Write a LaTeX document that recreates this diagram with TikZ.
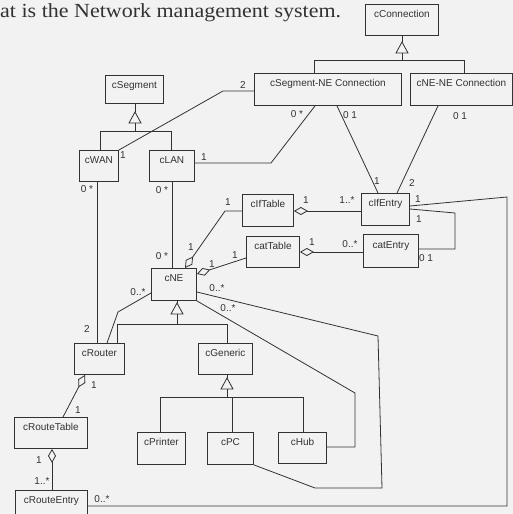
\documentclass[tikz,border=0pt]{standalone}
\usepackage{fontspec}
\setmainfont{Liberation Serif}
\newfontfamily\arialf{Liberation Sans}
\usetikzlibrary{arrows.meta}
\definecolor{bgc}{RGB}{242,242,242}
\definecolor{ink}{RGB}{50,50,50}
\newcommand\gentri[2]{\draw[conn, fill=bgc] (#1,#2) -- ++(-6,11) -- ++(12,0) -- cycle;}
\begin{document}
\begin{tikzpicture}[x=1pt,y=-1pt,
  cls/.style={draw=ink, line width=0.9pt, fill=bgc, rectangle, anchor=north west,
    inner xsep=0pt, inner ysep=0pt, text height=13pt, text depth=18pt,
    font=\arialf\fontsize{10}{12}\selectfont, text=ink},
  conn/.style={draw=ink, line width=0.8pt},
  mult/.style={font=\arialf\fontsize{10}{12}\selectfont, text=ink, inner sep=0pt},
  agg/.style={conn, {Diamond[fill=bgc, length=14pt, width=8pt]}-},
]
\useasboundingbox (0,0) rectangle (513,514);
\fill[bgc] (0,0) rectangle (513,514);
\clip (0,0) rectangle (513,514);

% title
\node[anchor=base west, inner sep=0pt, text=ink, font=\fontsize{20}{24}\selectfont] (title) at (0,17) {\scalebox{1.1}[1]{at is the Network management system.}};

% classes
\node[cls, minimum width=73pt, minimum height=31pt] (cConnection) at (365,4) {cConnection};
\node[cls, minimum width=147pt, minimum height=32pt] (cSegNE) at (254,73) {cSegment-NE Connection};
\node[cls, minimum width=102pt, minimum height=32pt] (cNENE) at (410,73) {cNE-NE Connection};
\node[cls, minimum width=58pt, minimum height=28pt, text depth=15pt] (cSegment) at (105,75) {cSegment};
\node[cls, minimum width=39pt, minimum height=31pt] (cWAN) at (79,150) {cWAN};
\node[cls, minimum width=45pt, minimum height=31pt] (cLAN) at (149,150) {cLAN};
\node[cls, minimum width=51pt, minimum height=32pt] (cIfTable) at (242,194) {cIfTable};
\node[cls, minimum width=48pt, minimum height=32pt] (cIfEntry) at (361,193) {cIfEntry};
\node[cls, minimum width=53pt, minimum height=31pt] (catTable) at (246,236) {catTable};
\node[cls, minimum width=55pt, minimum height=33pt] (catEntry) at (363,234) {catEntry};
\node[cls, minimum width=45pt, minimum height=32pt] (cNE) at (151,268) {cNE};
\node[cls, minimum width=50pt, minimum height=31pt] (cRouter) at (74,343) {cRouter};
\node[cls, minimum width=54pt, minimum height=31pt] (cGeneric) at (198,343) {cGeneric};
\node[cls, minimum width=48pt, minimum height=32pt] (cPrinter) at (137,432) {cPrinter};
\node[cls, minimum width=46pt, minimum height=32pt] (cPC) at (207,432) {cPC};
\node[cls, minimum width=48pt, minimum height=31pt] (cHub) at (278,432) {cHub};
\node[cls, minimum width=73pt, minimum height=31pt] (cRouteTable) at (14,417) {cRouteTable};
\node[cls, minimum width=72pt, minimum height=31pt] (cRouteEntry) at (15,490) {cRouteEntry};

% generalisations
\draw[conn] (cConnection.south -| 402,0) -- (402,42);
\gentri{402}{42}
\draw[conn] (402,53) -- (402,60);
\draw[conn] (cSegNE.north -| 314,0) -- (314,60) -- (464,60) -- (cNENE.north -| 464,0);

\draw[conn] (cSegment.south -| 135,0) -- (135,112);
\gentri{135}{112}
\draw[conn] (135,123) -- (135,131);
\draw[conn] (cWAN.north -| 100,0) -- (100,131) -- (171,131) -- (cLAN.north -| 171,0);

\draw[conn] (cNE.south -| 177,0) -- (177,303);
\gentri{177}{303}
\draw[conn] (177,314) -- (177,324);
\draw[conn] (cRouter.north -| 117,0) -- (117,324) -- (227,324) -- (cGeneric.north -| 227,0);

\draw[conn] (cGeneric.south -| 227,0) -- (227,378);
\gentri{227}{378}
\draw[conn] (227,389) -- (227,397);
\draw[conn] (cPrinter.north -| 160,0) -- (160,397) -- (303,397) -- (cHub.north -| 303,0);
\draw[conn] (232,397) -- (cPC.north -| 232,0);

% associations
\draw[conn] (cWAN.north east) -- (223,91) -- (cSegNE.west |- 0,91);
\node[mult] (m1) at (123,155) {1};
\node[mult] (m2) at (243,85) {2};

\draw[conn] (cLAN.east |- 0,163) -- (271,163) -- (cSegNE.south -| 315,0);
\node[mult] (m3) at (204,157) {1};
\node[mult] (m4) at (297,114) {0 *};

\draw[conn] (cSegNE.south -| 337,0) -- (cIfEntry.north -| 378,0);
\node[mult] (m5) at (350,115) {0 1};
\node[mult] (m6) at (377,181) {1};

\draw[conn] (cNENE.south -| 438,0) -- (cIfEntry.north -| 397,0);
\node[mult] (m7) at (460,116) {0 1};
\node[mult] (m8) at (412,183) {2};

\draw[conn] (cWAN.south -| 97,0) -- (cRouter.north -| 97,0);
\node[mult] (m9) at (87,189) {0 *};
\node[mult] (m10) at (87,329) {2};

\draw[conn] (cLAN.south -| 172,0) -- (cNE.north -| 172,0);
\node[mult] (m11) at (162,190) {0 *};
\node[mult] (m12) at (162,256) {0 *};

\draw[agg] (cNE.north -| 185,0) -- (225,211) -- (cIfTable.west |- 0,211);
\node[mult] (m13) at (191,247) {1};
\node[mult] (m14) at (228,202) {1};

\draw[agg] (cNE.east |- 0,274) -- (catTable.west |- 0,258);
\node[mult] (m15) at (212,264) {1};
\node[mult] (m16) at (235,255) {1};

\draw[agg] (cIfTable.east |- 0,211) -- (cIfEntry.west |- 0,211);
\node[mult] (m17) at (306,200) {1};
\node[mult] (m18) at (347,200) {1..*};

\draw[agg] (catTable.east |- 0,252) -- (catEntry.west |- 0,252);
\node[mult] (m19) at (312,242) {1};
\node[mult] (m20) at (350,244) {0..*};

\draw[conn] (cIfEntry.east |- 0,209) -- (455,213) -- (455,249) -- (catEntry.east |- 0,249);
\node[mult] (m21) at (419,219) {1};
\node[mult] (m22) at (426,258) {0 1};

\draw[conn] (cIfEntry.east |- 0,206) -- (507,197) -- (507,506) -- (cRouteEntry.east |- 0,506);
\node[mult] (m23) at (418,199) {1};
\node[mult] (m24) at (102,499) {0..*};

\draw[conn] (cNE.west |- 0,293) -- (118,312) -- (cRouter.north -| 107,0);
\node[mult] (m25) at (138,292) {0..*};

\draw[conn] (cNE.east |- 0,292) -- (378,336) -- (382,488) -- (315,488) -- (cPC.south east);
\node[mult] (m26) at (217,288) {0..*};

\draw[conn] (cNE.south east) -- (355,393) -- (355,447) -- (cHub.east |- 0,447);
\node[mult] (m27) at (228,308) {0..*};

\draw[agg] (cRouter.south -| 85,0) -- (cRouteTable.north -| 63,0);
\node[mult] (m28) at (94,385) {1};
\node[mult] (m29) at (78,410) {1};

\draw[agg] (cRouteTable.south -| 52,0) -- (cRouteEntry.north -| 52,0);
\node[mult] (m30) at (39,460) {1};
\node[mult] (m31) at (42,481) {1..*};
\end{tikzpicture}
\end{document}
